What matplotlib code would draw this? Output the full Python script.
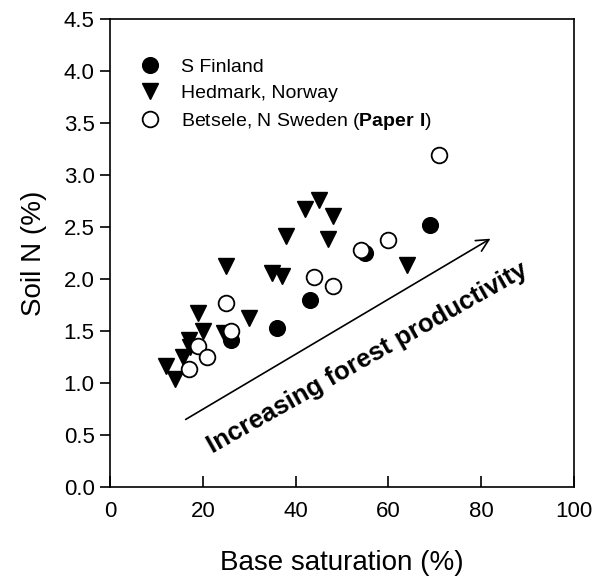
import matplotlib.pyplot as plt

plt.rcParams['font.family'] = ['Liberation Sans', 'DejaVu Sans']
plt.rcParams['mathtext.fontset'] = 'custom'
plt.rcParams['mathtext.rm'] = 'Liberation Sans'
plt.rcParams['mathtext.bf'] = 'Liberation Sans:bold'

# data
finland_x = [26, 36, 43, 55, 69]
finland_y = [1.41, 1.53, 1.80, 2.25, 2.52]

hedmark_x = [12, 14, 15.7, 17.2, 17, 19, 20, 24.5, 25, 30, 35, 37, 38, 42, 45, 47, 48, 64]
hedmark_y = [1.16, 1.04, 1.25, 1.35, 1.41, 1.67, 1.50, 1.48, 2.13, 1.63, 2.06, 2.03, 2.42, 2.68, 2.76, 2.39, 2.61, 2.14]

betsele_x = [17, 19, 21, 25, 26, 44, 48, 54, 60, 71]
betsele_y = [1.14, 1.36, 1.25, 1.77, 1.50, 2.02, 1.93, 2.28, 2.38, 3.20]

fig = plt.figure(figsize=(5.95, 5.83), dpi=100)
ax = fig.add_axes([0.1849, 0.1647, 0.7798, 0.8019])

ax.plot(finland_x, finland_y, 'o', ms=11.3, color='black', mec='black',
        label='S Finland')
ax.plot(hedmark_x, hedmark_y, 'v', ms=11, color='black', mec='black',
        label='Hedmark, Norway')
ax.plot(betsele_x, betsele_y, 'o', ms=11.3, mfc='white', mec='black', mew=1.3,
        label=r'Betsele, N Sweden ($\mathbf{Paper\ I}$)')

# arrow and annotation
ax.annotate('', xy=(82, 2.39), xytext=(16.3, 0.65),
            arrowprops=dict(arrowstyle='->', color='black', lw=1.2,
                            mutation_scale=22, shrinkA=0, shrinkB=0))
ax.text(55.4, 1.24, 'Increasing forest productivity', fontsize=18.6,
        fontweight='bold', rotation=29.5, rotation_mode='anchor',
        ha='center', va='center')

ax.set_xlim(0, 100)
ax.set_ylim(0, 4.5)
ax.set_xticks([0, 20, 40, 60, 80, 100])
ax.set_yticks([0.0, 0.5, 1.0, 1.5, 2.0, 2.5, 3.0, 3.5, 4.0, 4.5])
ax.set_yticklabels(['0.0', '0.5', '1.0', '1.5', '2.0', '2.5', '3.0', '3.5', '4.0', '4.5'])
ax.tick_params(axis='x', direction='in', length=8, width=1.2, labelsize=16, pad=10)
ax.tick_params(axis='y', direction='out', length=7, width=1.2, labelsize=16, pad=4)
for s in ax.spines.values():
    s.set_linewidth(1.2)

ax.set_xlabel('Base saturation (%)', fontsize=20, labelpad=20)
ax.set_ylabel('Soil N (%)', fontsize=20, labelpad=12)

leg = ax.legend(loc='upper left', bbox_to_anchor=(140 / 595, 1 - 58 / 583),
                bbox_transform=fig.transFigure, frameon=False, fontsize=14,
                handlelength=1.0, handletextpad=1.1, borderpad=0,
                borderaxespad=0, labelspacing=0.46, numpoints=1)

plt.savefig('out.png', dpi=100)
